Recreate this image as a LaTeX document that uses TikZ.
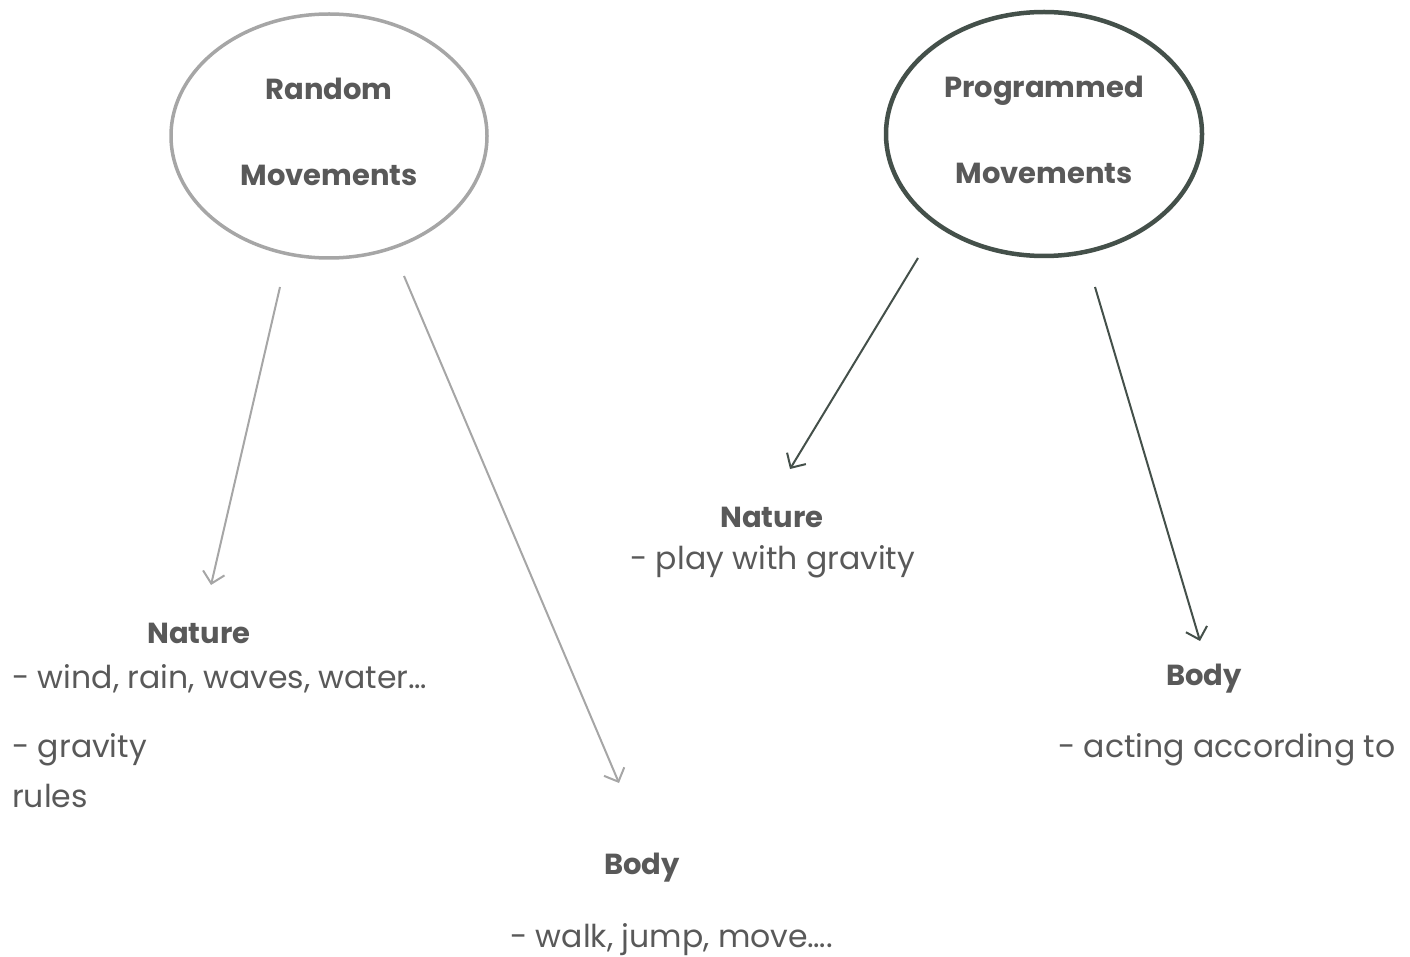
\documentclass[tikz,border=0pt]{standalone}
\usepackage{fontspec}
\setmainfont{Poppins}
\usetikzlibrary{shapes.geometric,arrows.meta}
\definecolor{lgray}{HTML}{A6A6A6}
\definecolor{dgreen}{HTML}{44504A}
\definecolor{txt}{HTML}{595959}
\newcommand{\upbit}[1]{\raisebox{4pt}[\height][\depth]{#1}}
\tikzset{
  bubble/.style={ellipse, draw, minimum width=316pt, minimum height=244pt, inner sep=0pt, align=center, text=txt, font=\fontsize{29}{86}\selectfont\bfseries},
  head/.style={text=txt, font=\fontsize{29}{34}\selectfont\bfseries},
  body/.style={text=txt, font=\fontsize{31.5}{38}\selectfont, inner sep=0pt},
  conn/.style={line width=2pt, -{Straight Barb[length=11pt,width=22pt,line width=2pt]}},
}
\begin{document}
\begin{tikzpicture}[x=1pt,y=-1pt]
\useasboundingbox (0,0) rectangle (1410,957);
\node[bubble, draw=lgray, line width=3.5pt] (rand) at (329,136) {\upbit{Random}\\\upbit{Movements}};
\node[bubble, draw=dgreen, line width=4.5pt] (prog) at (1044,134) {\upbit{Programmed}\\\upbit{Movements}};

\coordinate (a1s) at (280,287); \coordinate (a1e) at (211,585);
\coordinate (a2s) at (404,276); \coordinate (a2e) at (619,783);
\coordinate (a3s) at (918,258); \coordinate (a3e) at (790,469);
\coordinate (a4s) at (1095,287); \coordinate (a4e) at (1200,641);
\draw[conn, lgray] (a1s) -- (a1e);
\draw[conn, lgray] (a2s) -- (a2e);
\draw[conn, dgreen] (a3s) -- (a3e);
\draw[conn, dgreen] (a4s) -- (a4e);

\node[head] (n1) at (199,633) {Nature};
\node[body, anchor=west] (n1a) at (12,679) {- wind, rain, waves, water…};
\node[body, anchor=west] (n1b) at (12,750) {- gravity};
\node[body, anchor=west] (n1c) at (12,796) {rules};

\node[head] (b1) at (642,868) {Body};
\node[body, anchor=west] (b1a) at (510,940) {- walk, jump, move….};

\node[head] (n2) at (772,517) {Nature};
\node[body, anchor=west] (n2a) at (630,562) {- play with gravity};

\node[head] (b2) at (1204,679) {Body};
\node[body, anchor=west] (b2a) at (1058,750) {- acting according to};
\end{tikzpicture}
\end{document}
